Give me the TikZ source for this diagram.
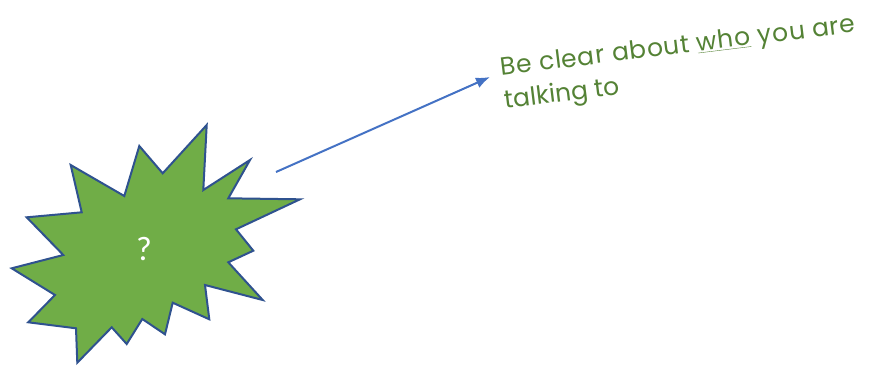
\documentclass[tikz,border=0pt]{standalone}
\usepackage{fontspec}
\setmainfont{Carlito}
\newfontfamily\notefont{Poppins}
\usepackage{xcolor}
\definecolor{burstgreen}{HTML}{70AD47}
\definecolor{burstedge}{HTML}{2F528F}
\definecolor{arrowblue}{HTML}{4472C4}
\definecolor{notegreen}{HTML}{548235}
\usepackage{tikz}
\usetikzlibrary{positioning,arrows.meta}

\begin{document}
\begin{tikzpicture}[x=1pt, y=-1pt]
  \useasboundingbox (0,0) rectangle (885,365);
  % Explosion shape
  \filldraw[fill=burstgreen, draw=burstedge, line width=2pt, line join=miter]
    (11.7,268.3) -- (63.3,255)   -- (26.7,217.3) -- (81.7,212.3)
    -- (70.7,165)  -- (124.3,196) -- (139.3,146) -- (162.7,173.3)
    -- (206.7,125) -- (203.3,190) -- (250,160)   -- (228.3,198.3)
    -- (300,199.3) -- (236,229.3) -- (253.3,250.7) -- (228.3,262.3)
    -- (262.7,300) -- (205,285)   -- (209.3,319.3) -- (172.7,302.7)
    -- (165,334.3) -- (142.3,319) -- (126.7,344) -- (111.7,327.3)
    -- (77.3,362.7) -- (76,328.3) -- (28.3,322.3) -- (55,295) -- cycle;
  \node[font=\fontsize{34}{38}\selectfont, text=white] (burst) at (144,249) {?};
  % Note
  \node[font=\notefont\fontsize{25}{33}\selectfont, text=notegreen, align=left,
        anchor=north west, rotate=7, inner sep=0pt] (note) at (499,57)
        {\addfontfeature{LetterSpace=3}Be clear about \underline{who} you are\\talking to};
  % Arrow
  \coordinate (tail) at (276,172);
  \coordinate (tip) at (490,77);
  \draw[arrowblue, line width=2pt, -{Latex[length=14pt,width=11pt]}] (tail) -- (tip);
\end{tikzpicture}
\end{document}
